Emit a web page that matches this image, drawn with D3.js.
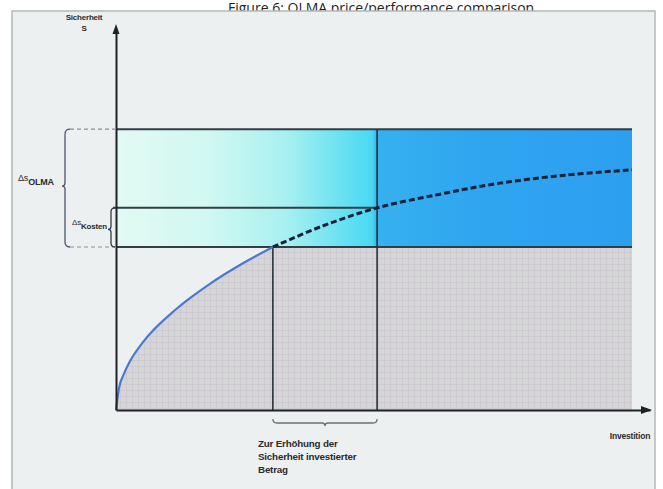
<!DOCTYPE html>
<html>
<head>
<meta charset="utf-8">
<script src="https://cdn.jsdelivr.net/npm/d3@7"></script>
<style>
  body { margin: 0; background: #fff; }
  svg { display: block; }
</style>
</head>
<body>
<svg id="chart"></svg>
<script>
// curve values (investment -> security, 0..100 units)
const solidInvest = [0, 0.6, 1.5, 2.7, 5.2, 11.8, 18.2, 24.6, 30.4];
const solidSecurity = [0, 5.9, 9.4, 12.8, 17.8, 26.7, 33.2, 38.6, 42.9];
const dashInvest = [30.4, 40, 50.6, 62.8, 74.4, 87, 100];
const dashSecurity = [42.9, 48.4, 53.2, 56.8, 59.7, 61.8, 63.2];
const bandTop = 73.9;      // OLMA level
const bandBottom = 42.9;   // current level
const costLevel = 53.2;    // level reached with the invested amount
const investStart = 30.4;
const investEnd = 50.6;
const investMax = 100;
const title = 'Figure 6: OLMA price/performance comparison';
const yLabel = ['Sicherheit', 'S'];
const xLabel = 'Investition';
const noteLines = ['Zur Erhöhung der', 'Sicherheit investierter', 'Betrag'];

const w = 663, h = 489;
const svg = d3.select('#chart').attr('width', w).attr('height', h);

const x = d3.scaleLinear().domain([0, 100]).range([116, 632]);
const y = d3.scaleLinear().domain([0, 100]).range([410, 30]);

// title (its lower part is hidden by the panel, as in the scan)
svg.append('text').attr('x', 228).attr('y', 13)
  .style('font-family', 'Open Sans, sans-serif').style('font-size', '14px').attr('fill', '#222')
  .text(title);

svg.append('rect').attr('x', 12).attr('y', 11).attr('width', 643).attr('height', 490)
  .attr('fill', '#edf0f1').attr('stroke', '#b4b6b6').attr('stroke-width', 1.5);

const defs = svg.append('defs');
const grad = defs.append('linearGradient').attr('id', 'band')
  .attr('gradientUnits', 'userSpaceOnUse')
  .attr('x1', x(0)).attr('x2', x(investMax)).attr('y1', 0).attr('y2', 0);
const cut = (x(investEnd) - x(0)) / (x(investMax) - x(0));
[[0, '#e2faf3'], [0.18, '#d0f8f1'], [0.33, '#a8f0f0'], [cut - 0.01, '#48d9f3'],
 [cut, '#36b1ef'], [0.7, '#2fa5ef'], [1, '#2d9fef']].forEach(s =>
  grad.append('stop').attr('offset', s[0]).attr('stop-color', s[1]));

const pat = defs.append('pattern').attr('id', 'hatch').attr('patternUnits', 'userSpaceOnUse')
  .attr('width', 6).attr('height', 6);
pat.append('rect').attr('width', 6).attr('height', 6).attr('fill', '#d6d5d8');
pat.append('path').attr('d', 'M0,0.5H6M0.5,0V6').attr('stroke', '#cac9cd').attr('stroke-width', 0.8);

// grey area: under the solid curve, then the rectangle below the band
const solid = solidInvest.map((v, i) => [v, solidSecurity[i]]);
const dashed = dashInvest.map((v, i) => [v, dashSecurity[i]]);
const area = d3.area().x(d => x(d[0])).y0(y(0)).y1(d => y(d[1])).curve(d3.curveMonotoneX);
svg.append('path').datum(solid).attr('d', area).attr('fill', 'url(#hatch)');
svg.append('rect').attr('x', x(investStart)).attr('y', y(bandBottom))
  .attr('width', x(investMax) - x(investStart)).attr('height', y(0) - y(bandBottom))
  .attr('fill', 'url(#hatch)');

// band
svg.append('rect').attr('x', x(0)).attr('y', y(bandTop))
  .attr('width', x(investMax) - x(0)).attr('height', y(bandBottom) - y(bandTop))
  .attr('fill', 'url(#band)');

const dark = '#343d44';
const hline = (lv, x0, x1) => svg.append('line').attr('x1', x0).attr('x2', x1)
  .attr('y1', y(lv)).attr('y2', y(lv)).attr('stroke', dark).attr('stroke-width', 2);
hline(bandTop, x(0), x(investMax));
hline(bandBottom, x(0), x(investMax));
hline(costLevel, 113, x(investEnd));

const vline = (v, l0, l1) => svg.append('line').attr('x1', x(v)).attr('x2', x(v))
  .attr('y1', y(l0)).attr('y2', y(l1)).attr('stroke', '#2a3238').attr('stroke-width', 1.6);
vline(investStart, 0, bandBottom);
vline(investEnd, 0, bandTop);

// curves
const solidLine = d3.line().x(d => x(d[0])).y(d => y(d[1])).curve(d3.curveMonotoneX);
const dashLine = d3.line().x(d => x(d[0])).y(d => y(d[1])).curve(d3.curveCatmullRom);
svg.append('path').datum(solid).attr('d', solidLine).attr('fill', 'none')
  .attr('stroke', '#4a78d2').attr('stroke-width', 2.2);
svg.append('path').datum(dashed).attr('d', dashLine).attr('fill', 'none')
  .attr('stroke', '#14213a').attr('stroke-width', 3).attr('stroke-dasharray', '6,3');

// axes (no ticks), with arrow heads
const xAxis = d3.axisBottom(x.copy().range([116, 650])).tickValues([]).tickSizeOuter(0);
const yAxis = d3.axisLeft(y.copy().range([410, 28])).tickValues([]).tickSizeOuter(0);
svg.append('g').attr('transform', `translate(0,${y(0)})`).call(xAxis)
  .select('.domain').attr('stroke', '#1e2226').attr('stroke-width', 2);
svg.append('g').attr('transform', `translate(${x(0)},0)`).call(yAxis)
  .select('.domain').attr('stroke', '#1e2226').attr('stroke-width', 2);
svg.append('path').attr('d', `M652,${y(0)} l-11,-4 v8 z`).attr('fill', '#1e2226');
svg.append('path').attr('d', `M${x(0)},24 l-3.5,10 h7 z`).attr('fill', '#1e2226');

// left braces
const brace = '#4f566b';
const bx = 65;
svg.append('path').attr('d', `M${x(0)},${y(bandTop)} H${bx + 4}`)
  .attr('fill', 'none').attr('stroke', '#8a8f99').attr('stroke-width', 1.2).attr('stroke-dasharray', '4,3');
svg.append('path').attr('d', `M${x(0)},${y(bandBottom)} H${bx + 4}`)
  .attr('fill', 'none').attr('stroke', '#8a8f99').attr('stroke-width', 1.2).attr('stroke-dasharray', '4,3');
const mid1 = (y(bandTop) + y(bandBottom)) / 2 - 2;
svg.append('path').attr('d', `M${bx + 5},${y(bandTop)} Q${bx},${y(bandTop)} ${bx},${y(bandTop) + 5}
  V${mid1 - 3} Q${bx},${mid1} ${bx - 3},${mid1} Q${bx},${mid1} ${bx},${mid1 + 3}
  V${y(bandBottom) - 5} Q${bx},${y(bandBottom)} ${bx + 5},${y(bandBottom)}`)
  .attr('fill', 'none').attr('stroke', brace).attr('stroke-width', 1.3);
const sx = 111, mid2 = (y(costLevel) + y(bandBottom)) / 2 + 2;
svg.append('path').attr('d', `M${sx + 4},${y(costLevel)} Q${sx},${y(costLevel)} ${sx},${y(costLevel) + 4}
  V${mid2 - 3} Q${sx},${mid2} ${sx - 3},${mid2} Q${sx},${mid2} ${sx},${mid2 + 3}
  V${y(bandBottom) - 4} Q${sx},${y(bandBottom)} ${sx + 4},${y(bandBottom)}`)
  .attr('fill', 'none').attr('stroke', dark).attr('stroke-width', 1.3);

// bottom brace under the invested amount
const by = 419, bm = (x(investStart) + x(investEnd)) / 2;
svg.append('path').attr('d', `M${x(investStart)},${by} Q${x(investStart)},${by + 4} ${x(investStart) + 4},${by + 4}
  H${bm - 3} Q${bm},${by + 4} ${bm},${by + 7} Q${bm},${by + 4} ${bm + 3},${by + 4}
  H${x(investEnd) - 4} Q${x(investEnd)},${by + 4} ${x(investEnd)},${by}`)
  .attr('fill', 'none').attr('stroke', '#6a6f78').attr('stroke-width', 1.3);

// labels
const lab = (tx, ty, t, size, anchor) => svg.append('text').attr('x', tx).attr('y', ty)
  .attr('text-anchor', anchor || 'start')
  .style('font-family', 'Liberation Sans, Arial, sans-serif').style('font-weight', 'bold')
  .style('font-size', size + 'px').attr('fill', '#2a2c2f').style('letter-spacing', '-0.2px').text(t);
lab(84, 20, yLabel[0], 8, 'middle');
lab(84, 31, yLabel[1], 8, 'middle');
lab(630, 439, xLabel, 8.5, 'middle');
noteLines.forEach((t, i) => lab(258, 447 + i * 13, t, 9.8));

const delta = (tx, ty, sub, size) => {
  const t = svg.append('text').attr('x', tx).attr('y', ty)
    .style('font-family', 'Liberation Sans, Arial, sans-serif').style('font-size', size + 'px')
    .attr('fill', '#2a2c2f').style('letter-spacing', '-0.2px');
  t.append('tspan').text('Δs');
  t.append('tspan').attr('dy', 4).style('font-weight', 'bold').text(sub);
};
delta(18, 181, 'OLMA', 9);
delta(72, 225, 'Kosten', 8);
</script>
</body>
</html>
